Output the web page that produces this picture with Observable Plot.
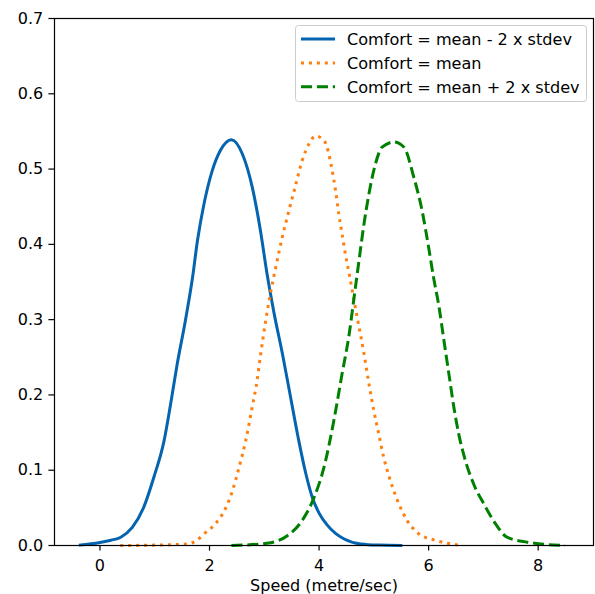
<!DOCTYPE html>
<html><head><meta charset="utf-8">
<script src="https://cdn.jsdelivr.net/npm/d3@7"></script>
<script src="https://cdn.jsdelivr.net/npm/@observablehq/plot@0.6"></script>
<style>
body{margin:0;background:#fff;}
#wrap{position:relative;width:595px;height:594px;font-family:"DejaVu Sans",sans-serif;}
#legend{position:absolute;left:0;top:0;pointer-events:none;}
.chart text{font-family:"DejaVu Sans",sans-serif;font-size:16px;}
</style></head><body><div id="wrap"></div>
<script>
const seriesNames = ["Comfort = mean - 2 x stdev", "Comfort = mean", "Comfort = mean + 2 x stdev"];

const lowX = [-0.385, 0.0, 0.2, 0.38, 0.59, 0.80, 0.985, 1.17, 1.29, 1.41, 1.56, 1.69, 1.78, 1.90, 2.05, 2.20, 2.40, 2.60, 2.78, 2.93, 3.05, 3.18, 3.33, 3.48, 3.63, 3.76, 3.88, 4.0, 4.15, 4.3, 4.45, 4.76, 5.1, 5.52];
const lowY = [0.0005, 0.004, 0.007, 0.011, 0.024, 0.051, 0.091, 0.139, 0.188, 0.241, 0.299, 0.356, 0.405, 0.454, 0.498, 0.525, 0.539, 0.520, 0.476, 0.418, 0.361, 0.308, 0.255, 0.197, 0.139, 0.095, 0.063, 0.043, 0.027, 0.016, 0.009, 0.002, 0.0005, 0];

const meanX = [0.37, 1.0, 1.59, 1.78, 1.90, 2.11, 2.29, 2.42, 2.54, 2.66, 2.78, 2.87, 2.93, 3.02, 3.11, 3.21, 3.33, 3.45, 3.57, 3.69, 3.82, 3.94, 4.09, 4.24, 4.30, 4.36, 4.42, 4.48, 4.55, 4.64, 4.73, 4.82, 4.91, 5.00, 5.09, 5.18, 5.28, 5.43, 5.61, 5.82, 6.09, 6.34, 6.59];
const meanY = [0, 0.0005, 0.002, 0.0075, 0.0155, 0.029, 0.049, 0.073, 0.104, 0.139, 0.184, 0.220, 0.252, 0.296, 0.334, 0.370, 0.410, 0.445, 0.478, 0.511, 0.534, 0.544, 0.538, 0.498, 0.472, 0.440, 0.414, 0.387, 0.361, 0.325, 0.290, 0.255, 0.215, 0.179, 0.148, 0.117, 0.091, 0.060, 0.033, 0.0155, 0.0075, 0.003, 0];

const highX = [2.40, 3.05, 3.42, 3.66, 3.91, 4.09, 4.27, 4.42, 4.55, 4.64, 4.73, 4.82, 4.91, 5.03, 5.15, 5.37, 5.55, 5.73, 5.88, 6.00, 6.09, 6.19, 6.28, 6.37, 6.46, 6.55, 6.67, 6.82, 7.01, 7.22, 7.43, 7.80, 8.49];
const highY = [0, 0.003, 0.013, 0.030, 0.064, 0.104, 0.166, 0.228, 0.281, 0.330, 0.379, 0.427, 0.467, 0.507, 0.529, 0.536, 0.529, 0.489, 0.445, 0.396, 0.356, 0.317, 0.272, 0.228, 0.184, 0.148, 0.113, 0.082, 0.055, 0.029, 0.011, 0.0044, 0];

const xTicks = [0, 2, 4, 6, 8];
const yTicks = [0, 0.1, 0.2, 0.3, 0.4, 0.5, 0.6, 0.7];
const xLabel = "Speed (metre/sec)";

const seriesData = [[lowX, lowY], [meanX, meanY], [highX, highY]].map(([xs, ys], i) =>
  xs.map((x, j) => ({series: seriesNames[i], x, y: ys[j]})));

const styles = [
  {stroke: "#0564af", dash: null, cap: "butt"},
  {stroke: "#ff7f0e", dash: "3,4.95", cap: "butt"},
  {stroke: "#008000", dash: "11.1,4.8", cap: "butt"}
];

const plot = Plot.plot({
  width: 595, height: 594,
  marginLeft: 54, marginRight: 2, marginTop: 18, marginBottom: 49,
  className: "chart",
  style: {fontFamily: "DejaVu Sans, sans-serif", fontSize: "16px", color: "#000", background: "#fff", overflow: "visible"},
  x: {domain: [-0.83, 9.01]},
  y: {domain: [0, 0.7]},
  marks: [
    ...seriesData.map((data, i) => Plot.line(data, {
      x: "x", y: "y", stroke: styles[i].stroke, strokeWidth: 3,
      strokeDasharray: styles[i].dash, strokeLinecap: styles[i].cap,
      strokeLinejoin: "round", curve: "monotone-x"
    })),
    Plot.frame({stroke: "#000", strokeWidth: 1.2}),
    Plot.axisX({ticks: xTicks, tickSize: 5.6, tickPadding: 8.5, tickFormat: d3.format("d"),
      strokeWidth: 1.2, label: xLabel, labelAnchor: "center", labelArrow: "none", labelOffset: 45}),
    Plot.axisY({ticks: yTicks, tickSize: 5.6, tickPadding: 5.6, tickFormat: d3.format(".1f"),
      strokeWidth: 1.2, label: null})
  ]
});
const wrap = document.getElementById("wrap");
wrap.appendChild(plot);

// Legend overlay (inside the axes, upper right)
const lg = d3.select(wrap).append("svg").attr("id", "legend")
  .attr("width", 595).attr("height", 594)
  .style("font-family", "DejaVu Sans, sans-serif").style("font-size", "16.1px");
lg.append("rect").attr("x", 295.5).attr("y", 25.5).attr("width", 291).attr("height", 76)
  .attr("rx", 3).attr("fill", "#fff").attr("fill-opacity", 0.8).attr("stroke", "#cccccc").attr("stroke-width", 1);
seriesNames.forEach((name, i) => {
  const cy = 39 + i * 23.9;
  lg.append("line").attr("x1", 301).attr("x2", 335).attr("y1", cy).attr("y2", cy)
    .attr("stroke", styles[i].stroke).attr("stroke-width", 3)
    .attr("stroke-dasharray", styles[i].dash).attr("stroke-linecap", styles[i].cap);
  lg.append("text").attr("x", 347).attr("y", cy).attr("dy", "0.36em").attr("fill", "#000").text(name);
});
</script></body></html>
